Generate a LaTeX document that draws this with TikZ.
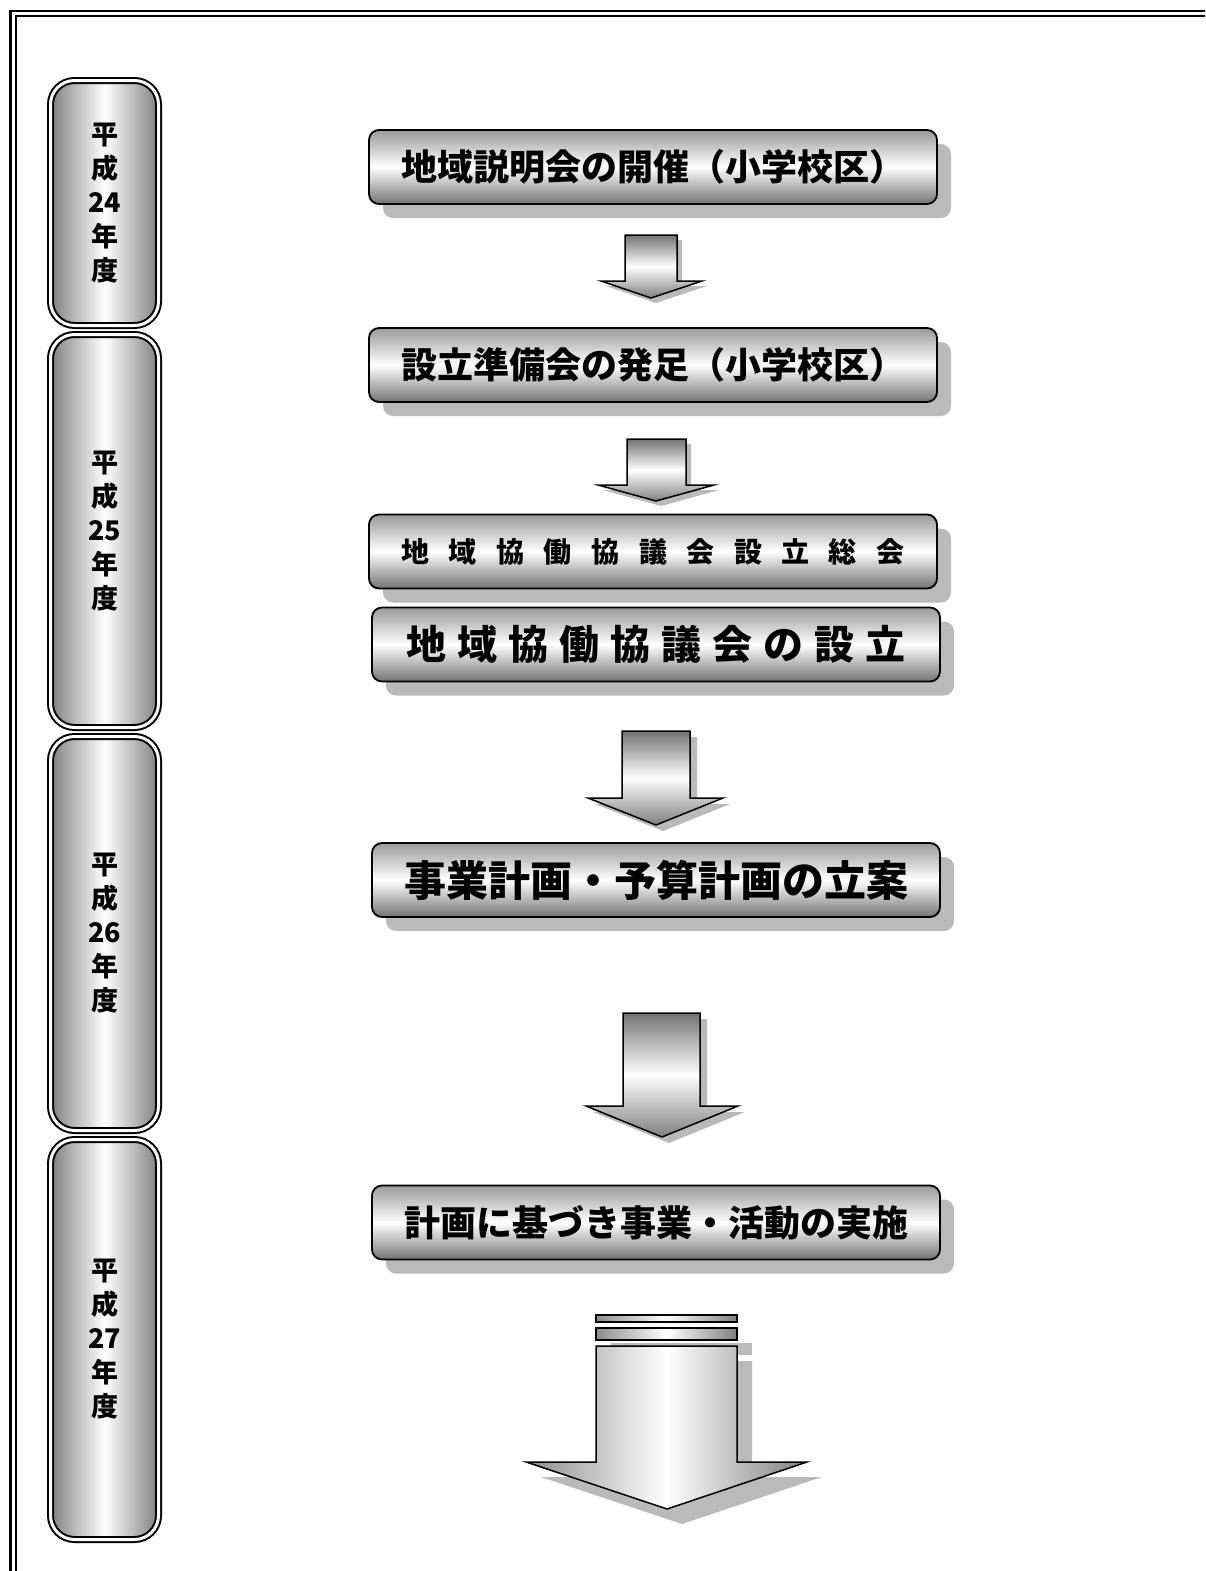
\documentclass[tikz,border=0pt]{standalone}
\usepackage{fontspec}
\setmainfont{Noto Sans CJK JP}
\usetikzlibrary{shadows}
\newcommand\gapA{\hspace{19.5pt}}
\newcommand\gapB{\hspace{11pt}}
\begin{document}
\begin{tikzpicture}[x=1pt,y=-1pt,
  pill/.style={rounded corners=24pt, double=white, double distance=3pt, line width=2pt, draw=black,
    left color=black!50, right color=black!50, middle color=white, minimum width=108pt,
    inner sep=0pt, align=center, font=\bfseries\fontsize{27}{34}\selectfont},
  stepbox/.style={rounded corners=10pt, draw=black, line width=1.8pt,
    top color=black!40, bottom color=black!55, middle color=white,
    minimum width=568pt, minimum height=74pt, inner sep=0pt, font=\bfseries,
    drop shadow={shadow xshift=14pt, shadow yshift=-14pt, fill=black!27, opacity=1}},
  arrowv/.style={draw=black, line width=1.5pt, line join=miter, top color=black!55, bottom color=black!50, middle color=white},
  arrowh/.style={draw=black, line width=1.5pt, line join=miter, left color=black!45, right color=black!50, middle color=white},
  shade/.style={fill=black!27, draw=none},
  frameline/.style={draw=black, line width=2.2pt}]
\useasboundingbox (0,0) rectangle (1205,1571);
\clip (0,0) rectangle (1205,1571);
\fill[white] (0,0) rectangle (1205,1571);
% outer double frame
\draw[frameline] (10.5,1600) |- (1230,11);
\draw[frameline] (16,1600) |- (1230,16.2);
% year pills
\node[pill, minimum height=245pt] (p1) at (104.5,203) {平\\成\\24\\年\\度};
\node[pill, minimum height=393pt] (p2) at (104.5,531) {平\\成\\25\\年\\度};
\node[pill, minimum height=394pt] (p3) at (104.5,933.5) {平\\成\\26\\年\\度};
\node[pill, minimum height=400pt] (p4) at (104.5,1339.5) {平\\成\\27\\年\\度};
% arrow shadows
\begin{scope}[shift={(5,5)}]
\path[shade] (625,235) -- (677,235) -- (677,281) -- (702,281) -- (651,298) -- (601,281) -- (625,281) -- cycle;
\path[shade] (627,439) -- (686,439) -- (686,485) -- (714,485) -- (656,501) -- (598,485) -- (627,485) -- cycle;
\end{scope}
\begin{scope}[shift={(7,6)}]
\path[shade] (622,731) -- (690,731) -- (690,798) -- (723,798) -- (656,825) -- (588,798) -- (622,798) -- cycle;
\path[shade] (623,1013) -- (700,1013) -- (700,1106) -- (738,1106) -- (662,1137) -- (586,1106) -- (623,1106) -- cycle;
\end{scope}
\begin{scope}[shift={(15,15)}]
\path[shade] (596,1328) rectangle (737,1340);
\path[shade] (596,1346) -- (737,1346) -- (737,1462) -- (807,1462) -- (667,1509) -- (526,1462) -- (596,1462) -- cycle;
\end{scope}
% arrows
\path[arrowv] (625,235) -- (677,235) -- (677,281) -- (702,281) -- (651,298) -- (601,281) -- (625,281) -- cycle;
\path[arrowv] (627,439) -- (686,439) -- (686,485) -- (714,485) -- (656,501) -- (598,485) -- (627,485) -- cycle;
\path[arrowv] (622,731) -- (690,731) -- (690,798) -- (723,798) -- (656,825) -- (588,798) -- (622,798) -- cycle;
\path[arrowv] (623,1013) -- (700,1013) -- (700,1106) -- (738,1106) -- (662,1137) -- (586,1106) -- (623,1106) -- cycle;
\path[arrowh] (596,1315) rectangle (737,1322);
\path[arrowh] (596,1328) rectangle (737,1340);
\path[arrowh] (596,1346) -- (737,1346) -- (737,1462) -- (807,1462) -- (667,1509) -- (526,1462) -- (596,1462) -- cycle;
% step boxes
\node[stepbox] (b1) at (653,167) {\fontsize{36}{36}\selectfont 地域説明会の開催（小学校区）};
\node[stepbox] (b2) at (653,365) {\fontsize{36}{36}\selectfont 設立準備会の発足（小学校区）};
\node[stepbox] (b3) at (653,551.5) {\fontsize{28}{28}\selectfont 地\gapA 域\gapA 協\gapA 働\gapA 協\gapA 議\gapA 会\gapA 設\gapA 立\gapA 総\gapA 会};
\node[stepbox] (b4) at (656,644.5) {\fontsize{40}{40}\selectfont 地\gapB 域\gapB 協\gapB 働\gapB 協\gapB 議\gapB 会\gapB の\gapB 設\gapB 立};
\node[stepbox] (b5) at (656,880) {\fontsize{42}{42}\selectfont 事業計画・予算計画の立案};
\node[stepbox] (b6) at (656,1222.5) {\fontsize{36}{36}\selectfont 計画に基づき事業・活動の実施};
\end{tikzpicture}
\end{document}
